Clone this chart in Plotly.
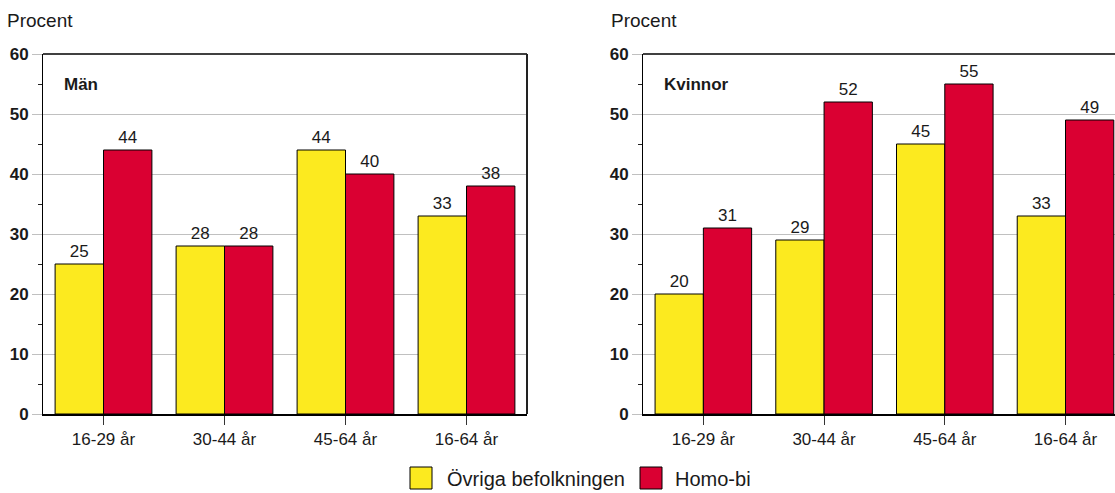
import plotly.graph_objects as go

# Age groups on the x axis
age_groups = ["16-29 år", "30-44 år", "45-64 år", "16-64 år"]

# Share in percent, men
men_general = [25, 28, 44, 33]
men_homobi = [44, 28, 40, 38]

# Share in percent, women
women_general = [20, 29, 45, 33]
women_homobi = [31, 52, 55, 49]

series_names = ["Övriga befolkningen", "Homo-bi"]
panel_titles = ["Män", "Kvinnor"]
y_ticks = [0, 10, 20, 30, 40, 50, 60]

YELLOW = "#FCEA1F"
RED = "#DA0032"
INK = "#1a1a1a"
GRID = "#c0c0c0"
FONT = "Liberation Sans, Arial, sans-serif"

W, H = 1115, 493


def px_x(p):
    return p / W


def px_y(p):
    return 1 - p / H


fig = go.Figure()

panels = [
    ("x", "y", men_general, men_homobi),
    ("x2", "y2", women_general, women_homobi),
]
for xa, ya, general, homobi in panels:
    for name, vals, color in [(series_names[0], general, YELLOW),
                              (series_names[1], homobi, RED)]:
        fig.add_trace(go.Bar(
            x=age_groups, y=vals, name=name, xaxis=xa, yaxis=ya,
            marker=dict(color=color, line=dict(color="#000000", width=1)),
            text=[str(v) for v in vals], textposition="outside",
            textfont=dict(family=FONT, size=17, color=INK),
            cliponaxis=False, showlegend=False,
        ))

y_common = dict(
    range=[0, 60], tickvals=y_ticks, showgrid=True, gridcolor=GRID, gridwidth=1,
    ticks="outside", ticklen=10, tickcolor=GRID, tickwidth=1,
    minor=dict(dtick=5, tick0=0, ticks="outside", ticklen=4, tickcolor="#222222",
               showgrid=False),
    showline=True, linecolor="#000000", linewidth=1, zeroline=False,
    tickfont=dict(family=FONT, size=17, color=INK, weight="bold"),
    fixedrange=True,
)
x_common = dict(
    type="category", showline=True, linecolor="#000000", linewidth=1.5,
    ticks="outside", ticklen=9, tickcolor="#333333", tickwidth=1,
    tickfont=dict(family=FONT, size=17, color=INK), showgrid=False,
    fixedrange=True,
)

y_domain = [px_y(414), px_y(54)]

fig.update_layout(
    width=W, height=H,
    margin=dict(l=0, r=0, t=0, b=0, autoexpand=False),
    paper_bgcolor="white", plot_bgcolor="white",
    barmode="group", bargap=0.2, bargroupgap=0,
    font=dict(family=FONT, color=INK),
    xaxis=dict(domain=[px_x(43), px_x(527)], range=[-0.5, 3.5], anchor="y", **x_common),
    yaxis=dict(domain=y_domain, anchor="x", **y_common),
    xaxis2=dict(domain=[px_x(643), 1.0], range=[-0.5, 3.41], anchor="y2", **x_common),
    yaxis2=dict(domain=y_domain, anchor="x2", **y_common),
)

# Panel frames: top and right edges of the left panel, top edge of the right panel
fig.add_shape(type="line", xref="x domain", yref="y domain", x0=0, x1=1, y0=1, y1=1,
              line=dict(color="#000000", width=1.5))
fig.add_shape(type="line", xref="x domain", yref="y domain", x0=1, x1=1, y0=0, y1=1,
              line=dict(color="#222222", width=2))
fig.add_shape(type="line", xref="x2 domain", yref="y2 domain", x0=0, x1=1, y0=1, y1=1,
              line=dict(color="#000000", width=1.5))

annotations = [
    dict(text="Procent", x=px_x(5), y=px_y(20), font=dict(size=19)),
    dict(text="Procent", x=px_x(609), y=px_y(20), font=dict(size=19)),
    dict(text=panel_titles[0], x=px_x(62), y=px_y(84), font=dict(size=17, weight="bold")),
    dict(text=panel_titles[1], x=px_x(662), y=px_y(84), font=dict(size=17, weight="bold")),
    dict(text=series_names[0], x=px_x(445), y=px_y(479), font=dict(size=20)),
    dict(text=series_names[1], x=px_x(673), y=px_y(479), font=dict(size=20)),
]
for a in annotations:
    fig.add_annotation(xref="paper", yref="paper", xanchor="left", yanchor="middle",
                       showarrow=False, font_family=FONT, font_color=INK, **a)

# Legend swatches
for x0, color in [(410, YELLOW), (640, RED)]:
    fig.add_shape(type="rect", xref="paper", yref="paper",
                  x0=px_x(x0), x1=px_x(x0 + 22), y0=px_y(489), y1=px_y(467),
                  fillcolor=color, line=dict(color="#000000", width=1))

fig.write_html("out.html", config=dict(displayModeBar=False))
